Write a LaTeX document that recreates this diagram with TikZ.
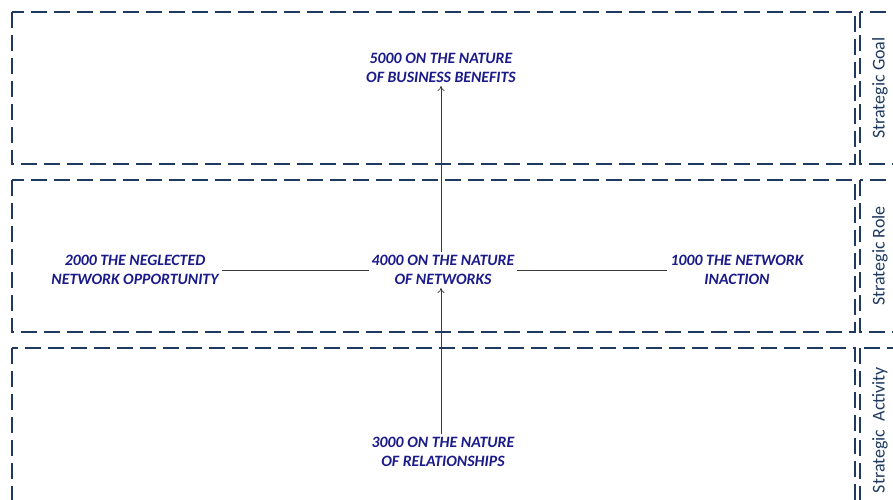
\documentclass[tikz,border=0pt]{standalone}
\usepackage{fontspec}
\setmainfont{Carlito}
\usetikzlibrary{arrows.meta}
\definecolor{lanecol}{HTML}{1F3A60}
\definecolor{itemcol}{HTML}{1A1A8A}
\definecolor{linkcol}{HTML}{3A3A3A}
\tikzset{
  lane/.style={draw=lanecol, line width=2pt, dash pattern=on 16pt off 7pt},
  item/.style={text=itemcol, font=\fontsize{15.8}{19}\selectfont\bfseries\itshape, align=center, inner sep=3pt},
  lanelabel/.style={text=lanecol, font=\fontsize{18}{20}\selectfont, rotate=90},
  link/.style={draw=linkcol, line width=0.7pt},
  flow/.style={link, -{To[length=5pt,width=7pt]}}
}
\begin{document}
\begin{tikzpicture}[x=1pt,y=-1pt]
\useasboundingbox (0,0) rectangle (893,499);
\clip (0,0) rectangle (893,499);
% swim lanes
\draw[lane] (12,12) rectangle (855,164);
\draw[lane] (860,12) rectangle (905,164);
\draw[lane] (12,180) rectangle (855,332);
\draw[lane] (860,180) rectangle (905,332);
\draw[lane] (12,348) rectangle (855,520);
\draw[lane] (860,348) rectangle (905,520);
% lane titles
\node[lanelabel] (goal) at (880,88) {Strategic Goal};
\node[lanelabel] (role) at (880,256) {Strategic Role};
\node[lanelabel] (activity) at (880,430) {Strategic\ \ Activity};
% items
\node[item] (n5000) at (441,68) {5000 ON THE NATURE\\OF BUSINESS BENEFITS};
\node[item] (n4000) at (443,270) {4000 ON THE NATURE\\OF NETWORKS};
\node[item] (n2000) at (135,270) {2000 THE NEGLECTED\\NETWORK OPPORTUNITY};
\node[item] (n1000) at (737,270) {1000 THE NETWORK\\INACTION};
\node[item] (n3000) at (443,452) {3000 ON THE NATURE\\OF RELATIONSHIPS};
% connectors
\draw[link] (n2000.east) -- (n4000.west);
\draw[link] (n4000.east) -- (n1000.west);
\draw[flow] (n3000.north -| 441,0) -- (n4000.south -| 441,0);
\draw[flow] (n4000.north -| 441,0) -- (n5000.south -| 441,0);
\end{tikzpicture}
\end{document}
